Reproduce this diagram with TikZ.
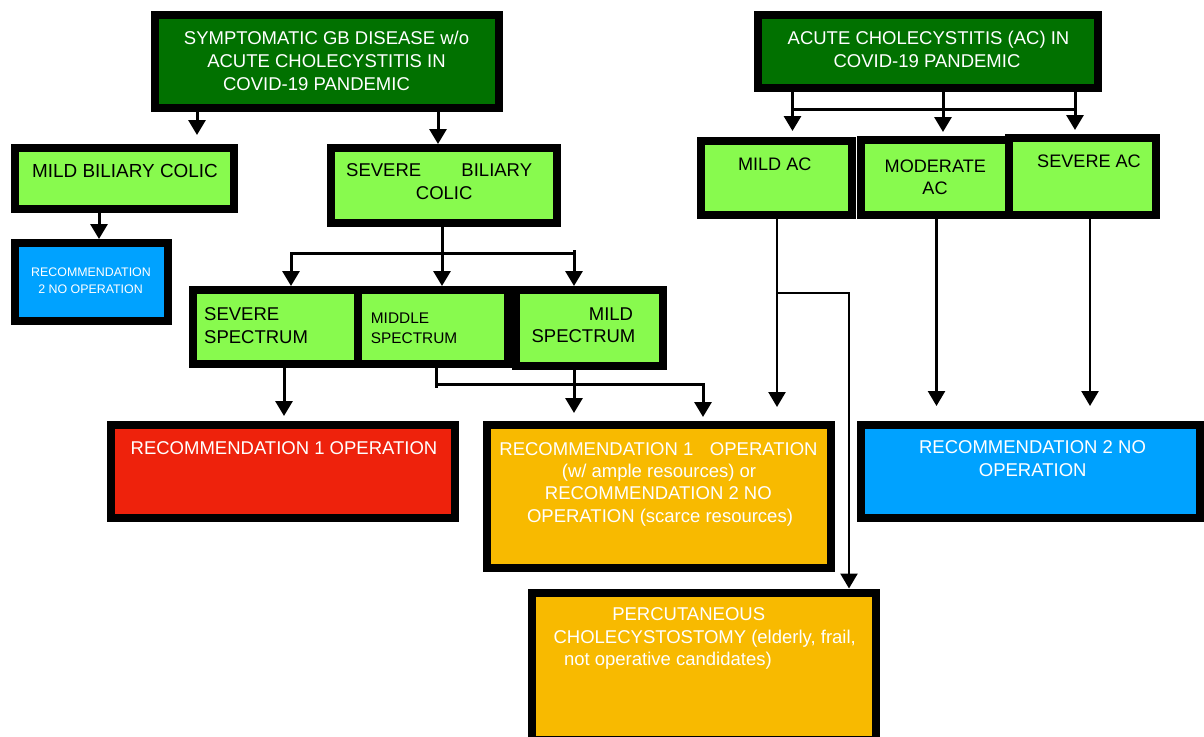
\documentclass[tikz,border=0pt]{standalone}
\usepackage{fontspec}
\setmainfont{Liberation Sans}
\usetikzlibrary{arrows.meta}
\definecolor{dkgreen}{HTML}{017100}
\definecolor{ltgreen}{HTML}{88FA4E}
\definecolor{skyblue}{HTML}{00A2FF}
\definecolor{recred}{HTML}{EE220C}
\definecolor{amber}{HTML}{F8BA00}
\begin{document}
\begin{tikzpicture}[x=1pt,y=-1pt,
 box/.style={draw=black, line width=8pt, inner sep=0pt, rectangle},
 txt/.style={anchor=base, inner sep=0pt, font=\fontsize{18.5}{22}\selectfont},
 wtxt/.style={txt, text=white},
 arr/.style={draw=black, line width=3pt, -{Triangle[width=17pt,length=15pt]}},
 ln/.style={draw=black, line width=3pt},
]
\useasboundingbox (0,0) rectangle (1204,736);
\fill[white] (0,0) rectangle (1204,736);

% ---------- boxes ----------
\node[box, fill=dkgreen, minimum width=344pt, minimum height=93pt] (A) at (327,61.5) {};
\node[box, fill=dkgreen, minimum width=340pt, minimum height=73pt] (B) at (928,51.5) {};
\node[box, fill=ltgreen, minimum width=219pt, minimum height=61pt] (mbc) at (124.5,178.5) {};
\node[box, fill=ltgreen, minimum width=226pt, minimum height=75pt] (sbc) at (444,185.5) {};
\node[box, fill=skyblue, minimum width=153pt, minimum height=78pt] (rs) at (91.5,282) {};
\node[box, fill=ltgreen, minimum width=165pt, minimum height=74pt] (ss) at (275.5,327) {};
\node[box, fill=ltgreen, minimum width=150pt, minimum height=74pt] (ms) at (433,327) {};
\node[box, fill=ltgreen, minimum width=147pt, minimum height=76pt] (mis) at (589.5,328) {};
\node[box, fill=ltgreen, minimum width=151pt, minimum height=74pt] (mac) at (776.5,177.5) {};
\node[box, fill=ltgreen, minimum width=148.5pt, minimum height=75pt] (mod) at (934.75,177.5) {};
\node[box, fill=ltgreen, minimum width=147pt, minimum height=76.5pt] (sac) at (1082.5,176.25) {};
\node[box, fill=recred, minimum width=344pt, minimum height=93.5pt] (red) at (283,471.25) {};
\node[box, fill=amber, minimum width=344pt, minimum height=143pt] (org) at (659,496.5) {};
\node[box, fill=skyblue, minimum width=339pt, minimum height=93.5pt] (blu) at (1030.5,471.25) {};
\node[box, fill=amber, minimum width=344.5pt, minimum height=147.5pt] (pct) at (703.75,666.25) {};

% ---------- texts ----------
\node[wtxt] (tA1) at (326.5,44.3) {SYMPTOMATIC GB DISEASE w/o};
\node[wtxt] (tA2) at (326.5,67.7) {ACUTE CHOLECYSTITIS IN};
\node[wtxt] (tA3) at (316.5,90.3) {COVID-19 PANDEMIC};
\node[wtxt] (tB1) at (928.5,44.3) {ACUTE CHOLECYSTITIS (AC) IN};
\node[wtxt] (tB2) at (927,67.7) {COVID-19 PANDEMIC};
\node[txt, font=\fontsize{18.9}{22}\selectfont] (tM1) at (125,177.7) {MILD BILIARY COLIC};
\node[txt, anchor=base west] (tS1) at (346,176.7) {SEVERE};
\node[txt, anchor=base east] (tS2) at (532.3,176.7) {BILIARY};
\node[txt] (tS3) at (444.2,199) {COLIC};
\node[wtxt, font=\fontsize{12.4}{15}\selectfont] (tR1) at (91,276.7) {RECOMMENDATION};
\node[wtxt, font=\fontsize{12.4}{15}\selectfont] (tR2) at (90.5,293.3) {2 NO OPERATION};
\node[txt, anchor=base west] (tSS1) at (204,320.7) {SEVERE};
\node[txt, anchor=base west] (tSS2) at (204,343.3) {SPECTRUM};
\node[txt, anchor=base west, font=\fontsize{15.4}{18}\selectfont] (tMS1) at (370.7,323.3) {MIDDLE};
\node[txt, anchor=base west, font=\fontsize{15.4}{18}\selectfont] (tMS2) at (370.7,343.3) {SPECTRUM};
\node[txt, anchor=base east] (tMI1) at (633.3,320) {MILD};
\node[txt] (tMI2) at (583.5,342.7) {SPECTRUM};
\node[txt, font=\fontsize{18.1}{22}\selectfont] (tMA) at (774.7,170.7) {MILD AC};
\node[txt, font=\fontsize{18.1}{22}\selectfont] (tMO1) at (935.3,172.3) {MODERATE};
\node[txt, font=\fontsize{18.1}{22}\selectfont] (tMO2) at (935,194.3) {AC};
\node[txt, font=\fontsize{18.1}{22}\selectfont] (tSA) at (1089,167.3) {SEVERE AC};
\node[wtxt] (tRed) at (284,454) {RECOMMENDATION 1 OPERATION};
\node[wtxt] (tO1) at (658.5,455) {RECOMMENDATION 1\hspace{11.5pt} OPERATION};
\node[wtxt] (tO2) at (659,477) {(w/ ample resources) or};
\node[wtxt] (tO3) at (658.3,499.5) {RECOMMENDATION 2 NO};
\node[wtxt] (tO4) at (660,522) {OPERATION (scarce resources)};
\node[wtxt] (tBl1) at (1032.5,453.3) {RECOMMENDATION 2 NO};
\node[wtxt] (tBl2) at (1032.7,476) {OPERATION};
\node[wtxt] (tP1) at (688.7,620.7) {PERCUTANEOUS};
\node[wtxt] (tP2) at (704.7,643.3) {CHOLECYSTOSTOMY (elderly, frail,};
\node[wtxt] (tP3) at (667.9,665.7) {not operative candidates)};

% ---------- connector coordinates ----------
\coordinate (c1) at (197,135);
\coordinate (c2) at (438,0);
\coordinate (c3) at (99,0);
\coordinate (c4) at (442,0);
\coordinate (sbL) at (291,253);
\coordinate (sbR) at (574,253);
\coordinate (sbRt) at (574,250);
\coordinate (c7) at (284,416);
\coordinate (mt) at (436,388);
\coordinate (mb) at (436,384);
\coordinate (mr) at (703,417);
\coordinate (c9) at (574,413);
\coordinate (bL) at (792.5,109);
\coordinate (bR) at (1075,109);
\coordinate (d1) at (792.5,131);
\coordinate (d2) at (943,132);
\coordinate (d3) at (1075,130);
\coordinate (e1) at (777,407);
\coordinate (e2) at (777,293);
\coordinate (e3) at (849,0);
\coordinate (f1) at (936.5,406);
\coordinate (g1) at (1090,406);

% ---------- connectors ----------
\draw[arr] (A.south -| c1) -- (c1);
\draw[arr] (A.south -| c2) -- (sbc.north -| c2);
\draw[arr] (mbc.south -| c3) -- (rs.north -| c3);
\draw[arr] (sbc.south -| c4) -- (ms.north -| c4);
\draw[arr] (sbR) -| (ss.north -| sbL);
\draw[arr] (sbRt) -- (mis.north -| sbRt);
\draw[arr] (ss.south -| c7) -- (c7);
\draw[ln] (ms.south -| mt) -- (mt);
\draw[arr] (mb) -| (mr);
\draw[arr] (mis.south -| c9) -- (c9);
\draw[ln] (bL) -- (bR);
\draw[arr] (B.south -| d1) -- (d1);
\draw[arr] (B.south -| d2) -- (d2);
\draw[arr] (B.south -| d3) -- (d3);
\draw[arr, line width=2.5pt] (mac.south -| e1) -- (e1);
\draw[arr, line width=2.5pt] (e2) -| (pct.north -| e3);
\draw[arr, line width=2.5pt] (mod.south -| f1) -- (f1);
\draw[arr, line width=2.5pt] (sac.south -| g1) -- (g1);
\end{tikzpicture}
\end{document}
